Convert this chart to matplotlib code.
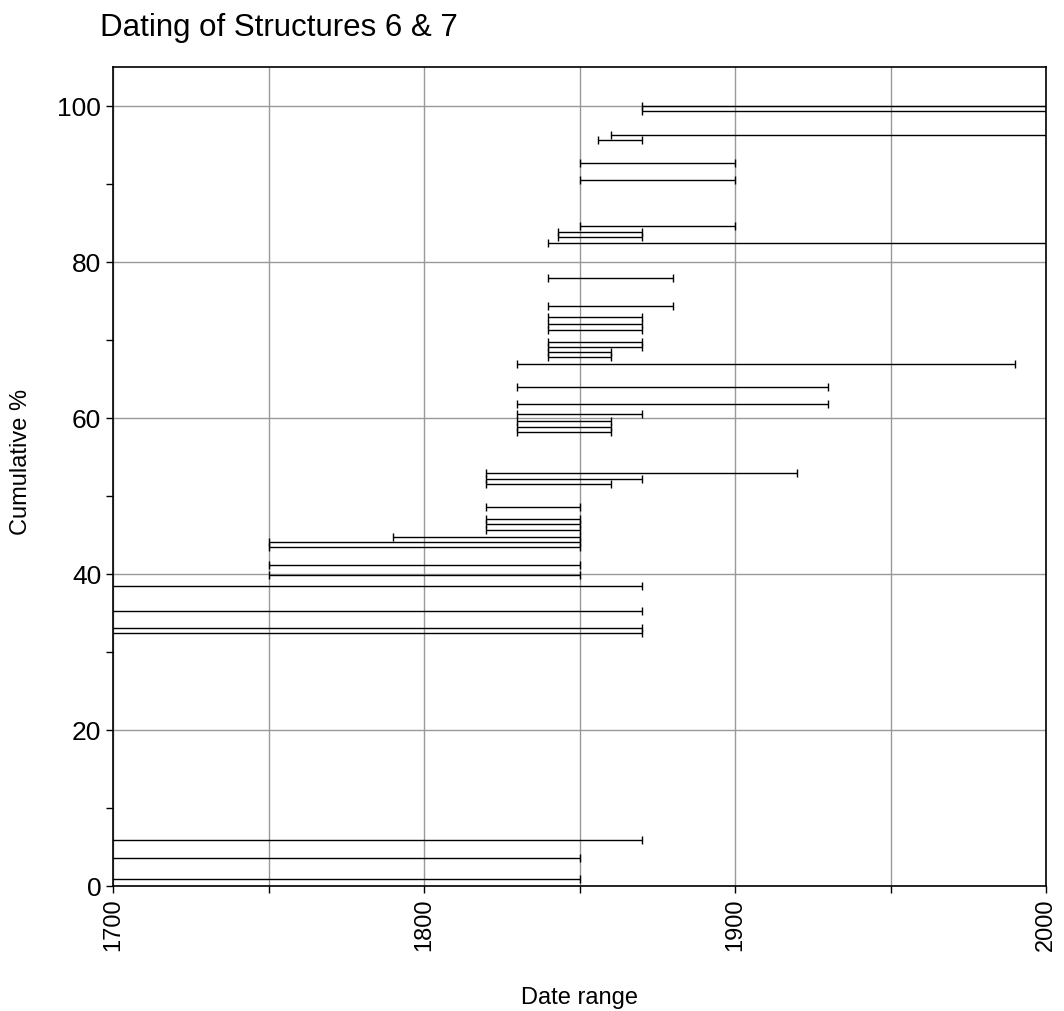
import matplotlib.pyplot as plt
from matplotlib.ticker import MultipleLocator

# cumulative % position of each dated item, with its start/end date
cum_pct = [0.86, 3.6, 5.9, 32.4, 33.1, 35.3, 38.4, 39.9, 41.2, 43.5,
           44.1, 44.8, 45.7, 46.4, 47.05, 48.6, 51.5, 52.2, 53.0, 58.2,
           58.9, 59.6, 60.5, 61.8, 64.0, 66.9, 67.8, 68.5, 69.1, 69.8,
           71.3, 72.1, 72.9, 74.3, 78.0, 82.5, 83.2, 83.9, 84.6, 90.5,
           92.7, 95.7, 96.3, 99.3, 100.0]
date_start = [1650, 1650, 1650, 1650, 1650, 1650, 1650, 1750, 1750, 1750,
              1750, 1790, 1820, 1820, 1820, 1820, 1820, 1820, 1820, 1830,
              1830, 1830, 1830, 1830, 1830, 1830, 1840, 1840, 1840, 1840,
              1840, 1840, 1840, 1840, 1840, 1840, 1843, 1843, 1850, 1850,
              1850, 1856, 1860, 1870, 1870]
date_end = [1850, 1850, 1870, 1870, 1870, 1870, 1870, 1850, 1850, 1850,
            1850, 1850, 1850, 1850, 1850, 1850, 1860, 1870, 1920, 1860,
            1860, 1860, 1870, 1930, 1930, 1990, 1860, 1860, 1870, 1870,
            1870, 1870, 1870, 1880, 1880, 2050, 1870, 1870, 1900, 1900,
            1900, 1870, 2050, 2050, 2050]

font = ['Liberation Sans', 'DejaVu Sans']
plt.rcParams['font.family'] = font

fig = plt.figure(figsize=(10.64, 10.12), dpi=100)
ax = fig.add_axes([113 / 1064, 125 / 1012, 933 / 1064, 819 / 1012])

mid = [(s + e) / 2 for s, e in zip(date_start, date_end)]
half = [(e - s) / 2 for s, e in zip(date_start, date_end)]
ax.errorbar(mid, cum_pct, xerr=half, fmt='none', ecolor='black',
            elinewidth=1.0, capsize=3, capthick=1.0, zorder=3)

ax.set_xlim(1700, 2000)
ax.set_ylim(0, 105)
ax.xaxis.set_major_locator(MultipleLocator(100))
ax.xaxis.set_minor_locator(MultipleLocator(50))
ax.yaxis.set_major_locator(MultipleLocator(20))
ax.yaxis.set_minor_locator(MultipleLocator(10))
ax.grid(True, which='major', color='#999999', linewidth=1.0)
ax.grid(True, which='minor', axis='x', color='#999999', linewidth=1.0)
ax.set_axisbelow(True)
ax.tick_params(which='both', direction='out', length=5, width=1.0,
               colors='black')
ax.tick_params(axis='y', labelsize=19)
ax.tick_params(axis='x', labelsize=17)
plt.setp(ax.get_xticklabels(), rotation=90)
for sp in ax.spines.values():
    sp.set_linewidth(1.2)

ax.set_xlabel('Date range', fontsize=17, va='baseline')
ax.xaxis.set_label_coords(0.5, (887 - 1004) / 819)
ax.set_ylabel('Cumulative %', fontsize=17, va='center')
ax.yaxis.set_label_coords((21 - 113) / 933, (887 - 462) / 819)
fig.text(100 / 1064, 1 - 36 / 1012, 'Dating of Structures 6 & 7',
         fontsize=22.5, va='baseline', ha='left')

fig.savefig('out.png', dpi=100)
